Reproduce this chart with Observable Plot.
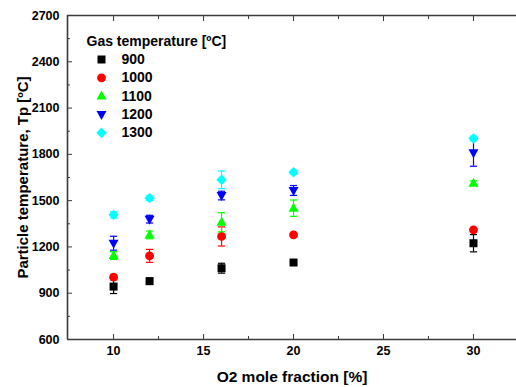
<!DOCTYPE html>
<html><head><meta charset="utf-8">
<script src="https://cdn.jsdelivr.net/npm/d3@7"></script>
<script src="https://cdn.jsdelivr.net/npm/@observablehq/plot@0.6"></script>
<style>body{margin:0;background:#fff} #chart{width:516px;height:387px;overflow:hidden}</style>
</head><body><div id="chart"></div>
<script>
// ---- data ----
const o2 = [10, 12, 16, 20, 30];
const gasTemps = ["900", "1000", "1100", "1200", "1300"];
const tp900  = [943, 978, 1062, 1099, 1224];
const err900 = [45, 20, 32, 10, 56];
const tp1000  = [1004, 1142, 1268, 1278, 1311];
const err1000 = [15, 42, 62, 10, 10];
const tp1100  = [1144, 1278, 1360, 1451, 1613];
const err1100 = [25, 25, 62, 53, 15];
const tp1200  = [1224, 1380, 1533, 1566, 1810];
const err1200 = [45, 25, 28, 32, 87];
const tp1300  = [1408, 1516, 1635, 1684, 1903];
const err1300 = [20, 15, 57, 12, 15];
const xTicks = [10, 15, 20, 25, 30];
const xMinorTicks = [12.5, 17.5, 22.5, 27.5];
const yTicks = [600, 900, 1200, 1500, 1800, 2100, 2400, 2700];
const yMinorTicks = [750, 1050, 1350, 1650, 1950, 2250, 2550];
const xDomain = [7.44, 32.39];
const yDomain = [600, 2700];
const xTitle = "O2 mole fraction [%]";
const yTitle = "Particle temperature, Tp [ºC]";
const legendTitle = "Gas temperature [ºC]";

const values = [tp900, tp1000, tp1100, tp1200, tp1300];
const errors = [err900, err1000, err1100, err1200, err1300];
const colors = ["#000000", "#ff0000", "#00ff00", "#0000ff", "#00ffff"];

// ---- symbols (pixel sized) ----
const sym = (fn) => ({draw(ctx) { fn(ctx); ctx.closePath(); }});
const symbols = [
  sym(c => { c.moveTo(-4, -4); c.lineTo(4, -4); c.lineTo(4, 4); c.lineTo(-4, 4); }),
  {draw(c) { c.moveTo(4.4, 0); c.arc(0, 0, 4.4, 0, 2 * Math.PI); }},
  sym(c => { c.moveTo(0, -5.5); c.lineTo(5, 3.5); c.lineTo(-5, 3.5); }),
  sym(c => { c.moveTo(0, 5.5); c.lineTo(5, -3.5); c.lineTo(-5, -3.5); }),
  sym(c => { c.moveTo(0, -5.2); c.lineTo(5.2, 0); c.lineTo(0, 5.2); c.lineTo(-5.2, 0); })
];
const cap = {draw(c) { c.moveTo(-3.6, 0); c.lineTo(3.6, 0); }};

const rows = gasTemps.map((g, i) => o2.map((x, j) => ({series: g, x, y: values[i][j], lo: values[i][j] - errors[i][j], hi: values[i][j] + errors[i][j]})));

const axisColor = "#3a3a3a";
const marks = [];
// axes lines
marks.push(Plot.ruleX([xDomain[0]], {stroke: axisColor, strokeWidth: 1.6}));
marks.push(Plot.ruleY(yDomain, {stroke: axisColor, strokeWidth: 1.6}));
marks.push(Plot.axisY(yTicks, {tickSize: -5, tickPadding: 13, fontSize: 12.5, fontWeight: "bold", stroke: axisColor, tickFormat: d3.format("d"), label: null}));
marks.push(Plot.axisY(yMinorTicks, {tickSize: -3, tickFormat: () => "", stroke: axisColor, label: null}));
marks.push(Plot.axisX(xTicks, {tickSize: -5, tickPadding: 12, fontSize: 12.5, fontWeight: "bold", stroke: axisColor, tickFormat: d3.format("d"), label: null}));
marks.push(Plot.axisX(xMinorTicks, {tickSize: -3, tickFormat: () => "", stroke: axisColor, label: null}));
marks.push(Plot.axisX(xTicks, {anchor: "top", tickSize: -5, tickFormat: () => "", stroke: axisColor, label: null}));
marks.push(Plot.axisX(xMinorTicks, {anchor: "top", tickSize: -3, tickFormat: () => "", stroke: axisColor, label: null}));

// data
rows.forEach((data, i) => {
  marks.push(Plot.ruleX(data, {x: "x", y1: "lo", y2: "hi", stroke: colors[i], strokeWidth: 1.2}));
  marks.push(Plot.dot(data, {x: "x", y: "lo", symbol: cap, stroke: colors[i], strokeWidth: 1.2, fill: "none"}));
  marks.push(Plot.dot(data, {x: "x", y: "hi", symbol: cap, stroke: colors[i], strokeWidth: 1.2, fill: "none"}));
  marks.push(Plot.dot(data, {x: "x", y: "y", symbol: symbols[i], fill: colors[i], stroke: "none"}));
});

// legend
marks.push(Plot.text([legendTitle], {text: d => d, frameAnchor: "top-left", dx: 19, dy: 26, textAnchor: "start", lineAnchor: "middle", fontSize: 14, fontWeight: "bold"}));
gasTemps.forEach((g, i) => {
  marks.push(Plot.dot([g], {frameAnchor: "top-left", dx: 34, dy: 44 + i * 18.3, symbol: symbols[i], fill: colors[i], stroke: "none"}));
  marks.push(Plot.text([g], {text: d => d, frameAnchor: "top-left", dx: 54, dy: 44 + i * 18.3, textAnchor: "start", lineAnchor: "middle", fontSize: 14, fontWeight: "bold"}));
});

// axis titles
marks.push(Plot.text([xTitle], {text: d => d, frameAnchor: "bottom", dy: 42, lineAnchor: "bottom", fontSize: 15.5, fontWeight: "bold"}));
marks.push(Plot.text([yTitle], {text: d => d, frameAnchor: "left", dx: -44, rotate: -90, textAnchor: "middle", lineAnchor: "middle", fontSize: 15, fontWeight: "bold"}));

const chart = Plot.plot({
  width: 516,
  height: 387,
  marginLeft: 67,
  marginRight: 0,
  marginTop: 15,
  marginBottom: 48,
  x: {domain: xDomain},
  y: {domain: yDomain},
  style: {fontFamily: "'Liberation Sans', Arial, sans-serif", color: "#000", background: "#fff", overflow: "visible"},
  marks
});
document.getElementById("chart").appendChild(chart);
</script>
</body></html>
